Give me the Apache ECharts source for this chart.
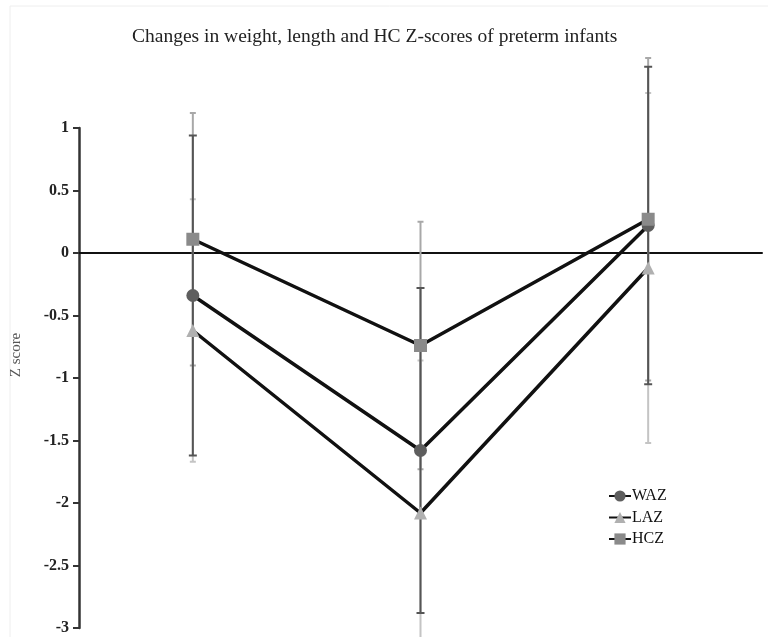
<!DOCTYPE html>
<html>
<head>
<meta charset="utf-8">
<script src="https://cdn.jsdelivr.net/npm/echarts@6/dist/echarts.min.js"></script>
<style>html,body{margin:0;padding:0;background:#fff}#c{width:768px;height:637px}</style>
</head>
<body>
<div id="c"></div>
<script>
var categories = ['T1', 'T2', 'T3'];
var seriesNames = ['WAZ', 'LAZ', 'HCZ'];
var wazMean = [-0.34, -1.58, 0.22];
var wazSD   = [1.28, 1.30, 1.27];
var lazMean = [-0.62, -2.08, -0.12];
var lazSD   = [1.05, 1.22, 1.40];
var hczMean = [0.11, -0.74, 0.27];
var hczSD   = [1.01, 0.99, 1.29];
var yTicks = [1, 0.5, 0, -0.5, -1, -1.5, -2, -2.5, -3];

function errData(mean, sd) {
  return mean.map(function (m, i) { return [i, m - sd[i], m + sd[i]]; });
}
function errSeries(name, mean, sd, color, capW, z) {
  return {
    type: 'custom', name: name + ' SD', z: z, silent: true, clip: false,
    data: errData(mean, sd),
    renderItem: function (params, api) {
      var x = api.value(0);
      var lo = api.coord([x, api.value(1)]);
      var hi = api.coord([x, api.value(2)]);
      var st = { stroke: color, lineWidth: 2 };
      return { type: 'group', children: [
        { type: 'line', shape: { x1: hi[0], y1: hi[1], x2: lo[0], y2: lo[1] }, style: st },
        { type: 'line', shape: { x1: hi[0] - capW, y1: hi[1], x2: hi[0] + capW, y2: hi[1] }, style: st },
        { type: 'line', shape: { x1: lo[0] - capW, y1: lo[1], x2: lo[0] + capW, y2: lo[1] }, style: st }
      ]};
    }
  };
}
function lineSeries(name, mean, symbol, color, size) {
  return {
    type: 'line', name: name, data: mean, symbol: symbol, symbolSize: size, z: 10,
    itemStyle: { color: color },
    lineStyle: { color: '#111', width: 3.5 }
  };
}

var chart = echarts.init(document.getElementById('c'));
chart.setOption({
  backgroundColor: '#fff',
  animation: false,
  graphic: [{ type: 'rect', shape: { x: 10, y: 6, width: 800, height: 700 }, style: { fill: 'none', stroke: '#eeeeee', lineWidth: 1 }, silent: true }],
  title: {
    text: 'Changes in weight, length and HC Z-scores of preterm infants',
    left: 127, top: 22,
    textStyle: { fontFamily: 'Liberation Serif', fontWeight: 'normal', fontSize: 19.5, color: '#222' }
  },
  legend: {
    data: seriesNames, orient: 'vertical', left: 603, top: 483, itemGap: 5.5,
    itemWidth: 22, itemHeight: 14,
    textStyle: { fontFamily: 'Liberation Serif', fontSize: 16, color: '#111', padding: [0, 0, 0, -4] }
  },
  grid: { left: 79, right: 6, top: 128, bottom: 9, containLabel: false },
  xAxis: {
    type: 'category', data: categories, boundaryGap: true,
    axisLine: { onZero: true, lineStyle: { color: '#111', width: 2 } },
    axisTick: { show: false }, axisLabel: { show: false }, splitLine: { show: false }
  },
  yAxis: {
    type: 'value', min: -3, max: 1, interval: 0.5,
    name: 'Z score', nameLocation: 'middle', nameGap: 55, nameRotate: 90,
    nameTextStyle: { fontFamily: 'Liberation Serif', fontSize: 15, color: '#555', padding: [0, 0, 0, 46] },
    axisLine: { show: true, onZero: false, lineStyle: { color: '#333', width: 2.5 } },
    axisTick: { show: true, length: 6, lineStyle: { color: '#333', width: 2 } },
    axisLabel: {
      margin: 10, fontFamily: 'Liberation Serif', fontWeight: 'bold', fontSize: 16, color: '#222',
      formatter: function (v) { return yTicks.indexOf(v) >= 0 ? String(v) : ''; }
    },
    splitLine: { show: false }
  },
  series: [
    errSeries('LAZ', lazMean, lazSD, '#c4c4c4', 3, 2),
    errSeries('HCZ', hczMean, hczSD, '#a8a8a8', 3, 3),
    errSeries('WAZ', wazMean, wazSD, '#555555', 4, 4),
    lineSeries('WAZ', wazMean, 'circle', '#5e5e5e', 13),
    lineSeries('LAZ', lazMean, 'triangle', '#b0b0b0', 13),
    lineSeries('HCZ', hczMean, 'rect', '#8a8a8a', 13)
  ]
});
</script>
</body>
</html>
